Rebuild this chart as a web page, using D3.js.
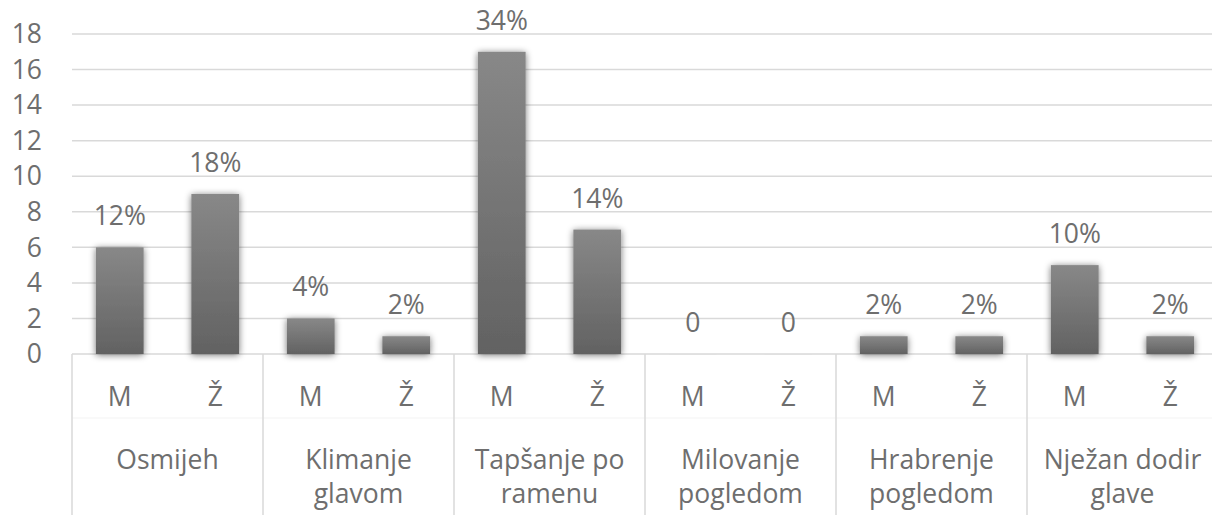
<!DOCTYPE html>
<html><head><meta charset="utf-8">
<script src="https://cdn.jsdelivr.net/npm/d3@7"></script>
<style>html,body{margin:0;padding:0;background:#fff;} svg{display:block;}</style>
</head><body>
<svg id="c" width="1212" height="515"></svg>
<script>
const groupLines = [["Osmijeh"],["Klimanje","glavom"],["Tapšanje po","ramenu"],["Milovanje","pogledom"],["Hrabrenje","pogledom"],["Nježan dodir","glave"]];
const genders = ["M","Ž"];
const valuesM = [6,2,17,0,1,5];
const valuesZ = [9,1,7,0,1,1];
const labelsM = ["12%","4%","34%","0","2%","10%"];
const labelsZ = ["18%","2%","14%","0","2%","2%"];
const yTicks = [0,2,4,6,8,10,12,14,16,18];

const font = "'Open Sans', sans-serif";
const txt = "#6e6e6e";
const fs = 26.5;
const svg = d3.select("#c");
const L = 72, R = 1218, Y0 = 354, Y1 = 34;

const cats = [];
groupLines.forEach((g,i)=>{
  cats.push({g:i, s:genders[0], v:valuesM[i], lab:labelsM[i]});
  cats.push({g:i, s:genders[1], v:valuesZ[i], lab:labelsZ[i]});
});
const x = d3.scaleBand().domain(d3.range(cats.length)).range([L,R]).paddingInner(0.5).paddingOuter(0.25);
const y = d3.scaleLinear().domain([0,18]).range([Y0,Y1]);
const gx = d3.scaleBand().domain(d3.range(groupLines.length)).range([L,R]);

const defs = svg.append("defs");
const grad = defs.append("linearGradient").attr("id","bg").attr("x1",0).attr("y1",0).attr("x2",0).attr("y2",1);
grad.append("stop").attr("offset","0%").attr("stop-color","#888");
grad.append("stop").attr("offset","100%").attr("stop-color","#626262");
const f = defs.append("filter").attr("id","sh").attr("x","-50%").attr("y","-50%").attr("width","200%").attr("height","200%");
f.append("feGaussianBlur").attr("in","SourceAlpha").attr("stdDeviation",3.5).attr("result","b");
f.append("feOffset").attr("in","b").attr("dx",0).attr("dy",1).attr("result","o");
f.append("feComponentTransfer").attr("in","o").attr("result","s").append("feFuncA").attr("type","linear").attr("slope",0.55);
const m = f.append("feMerge"); m.append("feMergeNode").attr("in","s"); m.append("feMergeNode").attr("in","SourceGraphic");

// gridlines
svg.append("g").selectAll("line").data(yTicks).join("line")
  .attr("x1",L).attr("x2",1212).attr("y1",d=>y(d)).attr("y2",d=>y(d))
  .attr("stroke","#d9d9d9").attr("stroke-width",1.5);

// y labels
svg.append("g").selectAll("text").data(yTicks).join("text")
  .attr("x",42).attr("y",d=>y(d)).attr("dy","0.35em").attr("text-anchor","end")
  .attr("font-family",font).attr("font-size",fs).attr("fill",txt).text(d=>d);

// category axis lines
svg.append("line").attr("x1",L).attr("x2",1212).attr("y1",418).attr("y2",418).attr("stroke","#f3f3f3").attr("stroke-width",1);
svg.append("g").selectAll("line").data(d3.range(groupLines.length+1)).join("line")
  .attr("x1",d=>d<groupLines.length?gx(d):R).attr("x2",d=>d<groupLines.length?gx(d):R)
  .attr("y1",Y0).attr("y2",515).attr("stroke","#d9d9d9").attr("stroke-width",1.5);

// bars
svg.append("g").selectAll("rect").data(cats).join("rect")
  .attr("x",(d,i)=>x(i)).attr("width",x.bandwidth())
  .attr("y",d=>y(d.v)).attr("height",d=>Math.max(0.01,Y0-y(d.v)))
  .attr("fill","url(#bg)").attr("filter","url(#sh)");

// data labels
svg.append("g").selectAll("text").data(cats).join("text")
  .attr("x",(d,i)=>x(i)+x.bandwidth()/2).attr("y",d=>y(d.v)-22)
  .attr("text-anchor","middle").attr("font-family",font).attr("font-size",fs).attr("fill",txt).text(d=>d.lab);

// sub labels
svg.append("g").selectAll("text").data(cats).join("text")
  .attr("x",(d,i)=>x(i)+x.bandwidth()/2).attr("y",406)
  .attr("text-anchor","middle").attr("font-family",font).attr("font-size",fs).attr("fill",txt).text(d=>d.s);

// group labels
const gl = svg.append("g").selectAll("text").data(groupLines).join("text")
  .attr("x",(d,i)=>gx(i)+gx.bandwidth()/2).attr("y",469)
  .attr("text-anchor","middle").attr("font-family",font).attr("font-size",fs).attr("fill",txt);
gl.each(function(d){
  const t=d3.select(this);
  d.forEach((s,k)=>t.append("tspan").attr("x",t.attr("x")).attr("dy",k?34:0).text(s));
});
</script>
</body></html>
